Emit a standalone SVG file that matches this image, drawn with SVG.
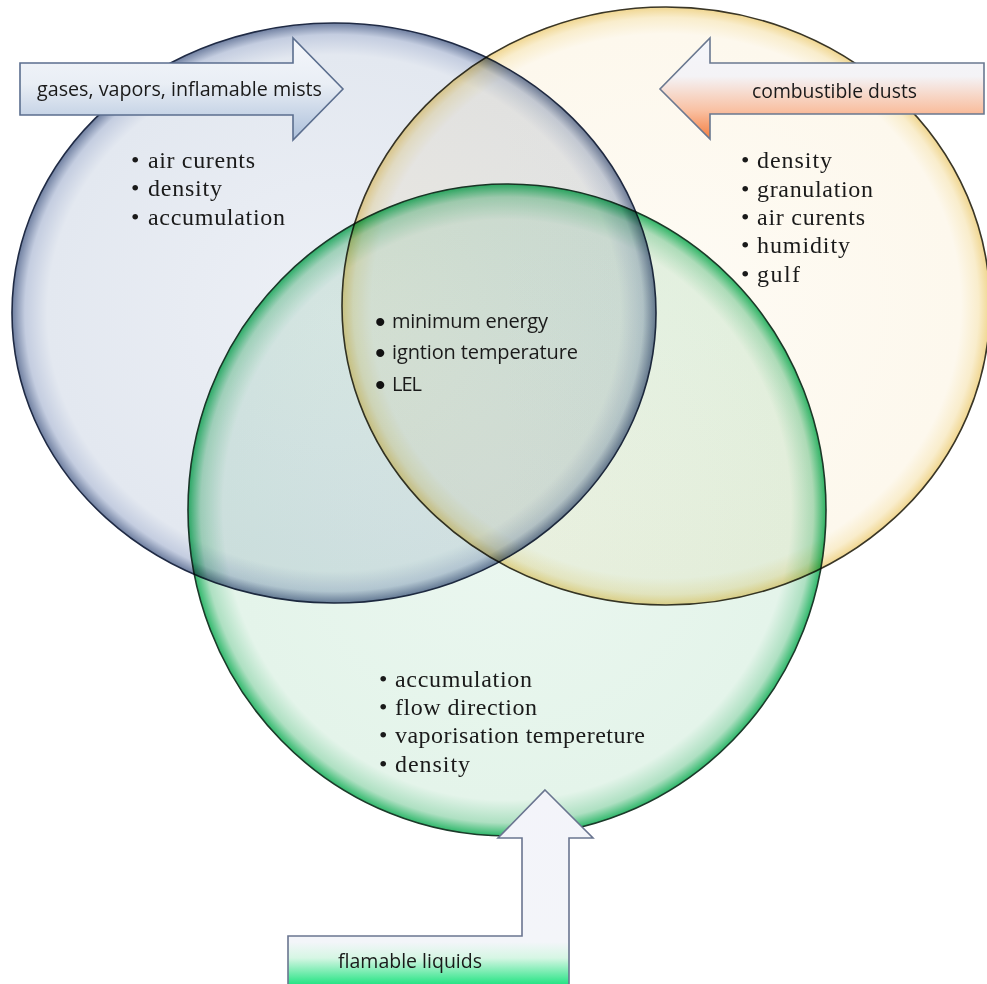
<svg xmlns="http://www.w3.org/2000/svg" width="987" height="984" viewBox="0 0 987 984">
<style>
.serif{font-family:"Liberation Serif","Times New Roman",serif;font-size:24px;fill:#1a1a1a}
.sans{font-family:"Open Sans","Liberation Sans",sans-serif;font-size:20px;fill:#1a1a1a}
.dot{font-family:"Liberation Sans",sans-serif;font-size:30px;fill:#111111}
.circ{mix-blend-mode:multiply}
.arrow{stroke-width:1.6;stroke-linejoin:miter}
</style>
<defs>
<radialGradient id="gBlue" cx="0.5" cy="0.5" r="0.5">
<stop offset="0" stop-color="#edf0f6"/>
<stop offset="0.89" stop-color="#e3e8f0"/>
<stop offset="0.96" stop-color="#c4cde0"/>
<stop offset="1" stop-color="#6f7fa0"/>
</radialGradient>
<radialGradient id="gYellow" cx="0.5" cy="0.5" r="0.5">
<stop offset="0" stop-color="#fefbf4"/>
<stop offset="0.91" stop-color="#fdf8ed"/>
<stop offset="0.965" stop-color="#f9edcc"/>
<stop offset="1" stop-color="#f0d690"/>
</radialGradient>
<radialGradient id="gGreen" cx="0.5" cy="0.5" r="0.5">
<stop offset="0" stop-color="#ebf7f0"/>
<stop offset="0.89" stop-color="#e4f4ea"/>
<stop offset="0.96" stop-color="#aee0c2"/>
<stop offset="1" stop-color="#2fb86b"/>
</radialGradient>
<linearGradient id="aBlue" x1="0" y1="0" x2="0" y2="1">
<stop offset="0" stop-color="#f5f7fb"/>
<stop offset="0.45" stop-color="#e9eef5"/>
<stop offset="1" stop-color="#abbfda"/>
</linearGradient>
<linearGradient id="aOrange" x1="0" y1="0" x2="0" y2="1">
<stop offset="0" stop-color="#f4f6fb"/>
<stop offset="0.38" stop-color="#f4f3f6"/>
<stop offset="0.72" stop-color="#f9c0a2"/>
<stop offset="1" stop-color="#f57e40"/>
</linearGradient>
<linearGradient id="aGreen" x1="0" y1="0" x2="0" y2="1">
<stop offset="0" stop-color="#f3f4fa"/>
<stop offset="0.76" stop-color="#f3f5f9"/>
<stop offset="0.84" stop-color="#d6f6e4"/>
<stop offset="1" stop-color="#00e070"/>
</linearGradient>
</defs>
<rect width="987" height="984" fill="#ffffff"/>

<g id="circles">
<g id="circle-gases"><ellipse class="circ" cx="334" cy="313" rx="322" ry="290" fill="url(#gBlue)" stroke="#1f2a44" stroke-width="1.6"/></g>
<g id="circle-dusts"><ellipse class="circ" cx="666" cy="306" rx="324" ry="299" fill="url(#gYellow)" stroke="#3a3626" stroke-width="1.6"/></g>
<g id="circle-liquids"><ellipse class="circ" cx="507" cy="510" rx="319" ry="326" fill="url(#gGreen)" stroke="#1c3a2a" stroke-width="1.6"/></g>
</g>

<g id="connectors">
<g id="arrow-gases"><path class="arrow" d="M20,63 L293,63 L293,38 L343,89 L293,140 L293,115 L20,115 Z" fill="url(#aBlue)" stroke="#5b6e8e"/></g>
<g id="arrow-dusts"><path class="arrow" d="M984,63 L710,63 L710,38 L660,89 L710,139 L710,114 L984,114 Z" fill="url(#aOrange)" stroke="#6a7890"/></g>
<g id="arrow-liquids"><path class="arrow" d="M545,790 L593,838 L569,838 L569,990 L288,990 L288,936 L522,936 L522,838 L498,838 Z" fill="url(#aGreen)" stroke="#6a7590"/></g>
</g>

<g id="label-gases"><text class="sans" x="37" y="96" textLength="285" lengthAdjust="spacingAndGlyphs">gases, vapors, inflamable mists</text></g>
<g id="label-dusts"><text class="sans" x="752" y="98" textLength="165" lengthAdjust="spacingAndGlyphs">combustible dusts</text></g>
<g id="label-liquids"><text class="sans" x="338" y="968" textLength="144" lengthAdjust="spacingAndGlyphs">flamable liquids</text></g>

<g id="list-gases">
<text class="serif" x="131" y="168">•</text><text class="serif" x="148" y="168" textLength="107">air curents</text>
<text class="serif" x="131" y="196">•</text><text class="serif" x="148" y="196" textLength="74">density</text>
<text class="serif" x="131" y="225">•</text><text class="serif" x="148" y="225" textLength="137">accumulation</text>
</g>

<g id="list-dusts">
<text class="serif" x="741" y="168">•</text><text class="serif" x="757" y="168" textLength="75">density</text>
<text class="serif" x="741" y="197">•</text><text class="serif" x="757" y="197" textLength="116">granulation</text>
<text class="serif" x="741" y="225">•</text><text class="serif" x="757" y="225" textLength="108">air curents</text>
<text class="serif" x="741" y="253">•</text><text class="serif" x="757" y="253" textLength="93">humidity</text>
<text class="serif" x="741" y="282">•</text><text class="serif" x="757" y="282" textLength="43">gulf</text>
</g>

<g id="list-common">
<text class="dot" x="375" y="332">•</text><text class="sans" x="392" y="328" textLength="156">minimum energy</text>
<text class="dot" x="375" y="363">•</text><text class="sans" x="392" y="359" textLength="186">igntion temperature</text>
<text class="dot" x="375" y="395">•</text><text class="sans" x="392" y="391" textLength="30">LEL</text>
</g>

<g id="list-liquids">
<text class="serif" x="379" y="687">•</text><text class="serif" x="395" y="687" textLength="137">accumulation</text>
<text class="serif" x="379" y="715">•</text><text class="serif" x="395" y="715" textLength="142">flow direction</text>
<text class="serif" x="379" y="743">•</text><text class="serif" x="395" y="743" textLength="250">vaporisation tempereture</text>
<text class="serif" x="379" y="772">•</text><text class="serif" x="395" y="772" textLength="75">density</text>
</g>
</svg>
